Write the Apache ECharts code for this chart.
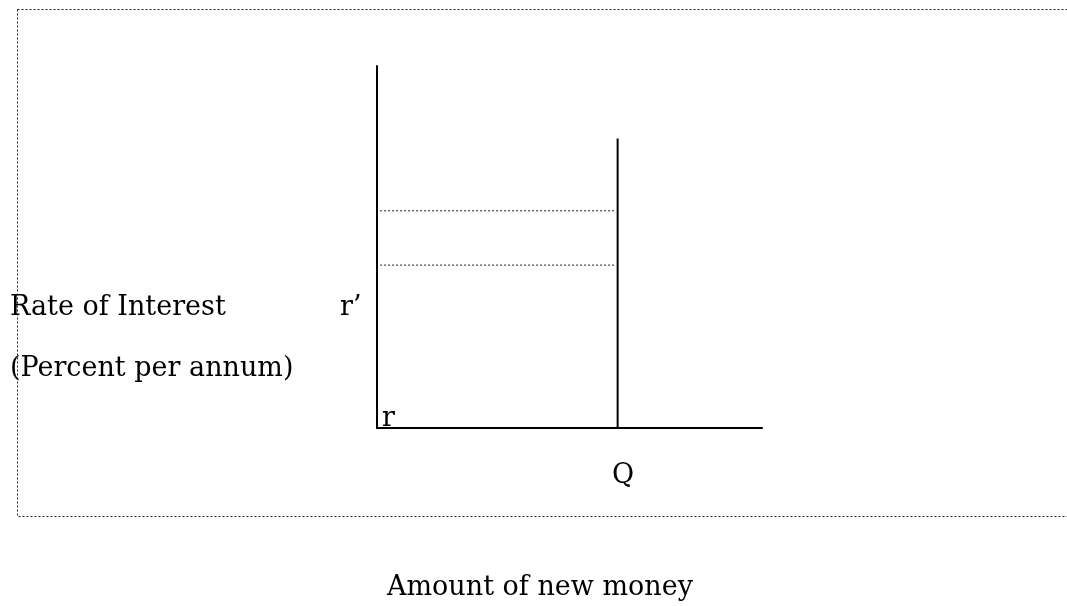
<!DOCTYPE html>
<html>
<head>
<meta charset="utf-8">
<title>Rate of interest vs amount of new money</title>
<script src="https://cdn.jsdelivr.net/npm/echarts@6/dist/echarts.min.js"></script>
<style>
  html, body { margin: 0; padding: 0; background: #fff; }
  #chart { width: 1067px; height: 606px; }
</style>
</head>
<body>
<div id="chart"></div>
<script>
// 数据 (units on both axes are arbitrary 0..10)
const axisMax = 10;
const quantityQ = 6.25;            // supply of new money, vertical line
const supplyTop = 8;               // how high the supply line goes
const rateLevels = [6, 4.5];       // dotted interest rate levels
const guideStart = 0.08;           // dotted lines start just right of the y axis

const supplyLine = [[quantityQ, 0], [quantityQ, supplyTop]];

const labelFont = '27px "DejaVu Serif", serif';

const chart = echarts.init(document.getElementById('chart'));

const guideSeries = rateLevels.map((r) => ({
  type: 'line',
  data: [[guideStart, r], [quantityQ - 0.05, r]],
  symbol: 'none',
  silent: true,
  lineStyle: { color: '#222', width: 1, type: [2, 2] },
}));

const option = {
  animation: false,
  backgroundColor: '#fff',
  grid: {
    left: 377,
    right: 305,
    top: 66,
    bottom: 178,
  },
  xAxis: {
    type: 'value',
    min: 0,
    max: axisMax,
    axisLine: { show: true, onZero: false, lineStyle: { color: '#000', width: 2 } },
    axisTick: { show: false },
    axisLabel: { show: false },
    splitLine: { show: false },
  },
  yAxis: {
    type: 'value',
    min: 0,
    max: axisMax,
    axisLine: { show: true, onZero: false, lineStyle: { color: '#000', width: 2 } },
    axisTick: { show: false },
    axisLabel: { show: false },
    splitLine: { show: false },
  },
  series: [
    {
      name: 'supply',
      type: 'line',
      data: supplyLine,
      symbol: 'none',
      silent: true,
      lineStyle: { color: '#000', width: 2 },
    },
  ].concat(guideSeries),
  graphic: [
    { // dotted frame
      type: 'rect',
      silent: true,
      shape: { x: 17.5, y: 9.5, width: 1100, height: 507 },
      style: { fill: 'none', stroke: '#222', lineWidth: 1, lineDash: [2, 2] },
    },
    {
      type: 'text', silent: true, x: 10, y: 308,
      style: { text: 'Rate of Interest', font: labelFont, fill: '#000', verticalAlign: 'middle' },
    },
    {
      type: 'text', silent: true, x: 10, y: 369,
      style: { text: '(Percent per annum)', font: labelFont, fill: '#000', verticalAlign: 'middle' },
    },
    {
      type: 'text', silent: true, x: 340, y: 308,
      style: { text: 'r\u2019', font: labelFont, fill: '#000', verticalAlign: 'middle' },
    },
    {
      type: 'text', silent: true, x: 382, y: 419,
      style: { text: 'r', font: labelFont, fill: '#000', verticalAlign: 'middle' },
    },
    {
      type: 'text', silent: true, x: 612, y: 476,
      style: { text: 'Q', font: labelFont, fill: '#000', verticalAlign: 'middle' },
    },
    {
      type: 'text', silent: true, x: 387, y: 588,
      style: { text: 'Amount of new money', font: labelFont, fill: '#000', verticalAlign: 'middle' },
    },
  ],
};

chart.setOption(option);
</script>
</body>
</html>
